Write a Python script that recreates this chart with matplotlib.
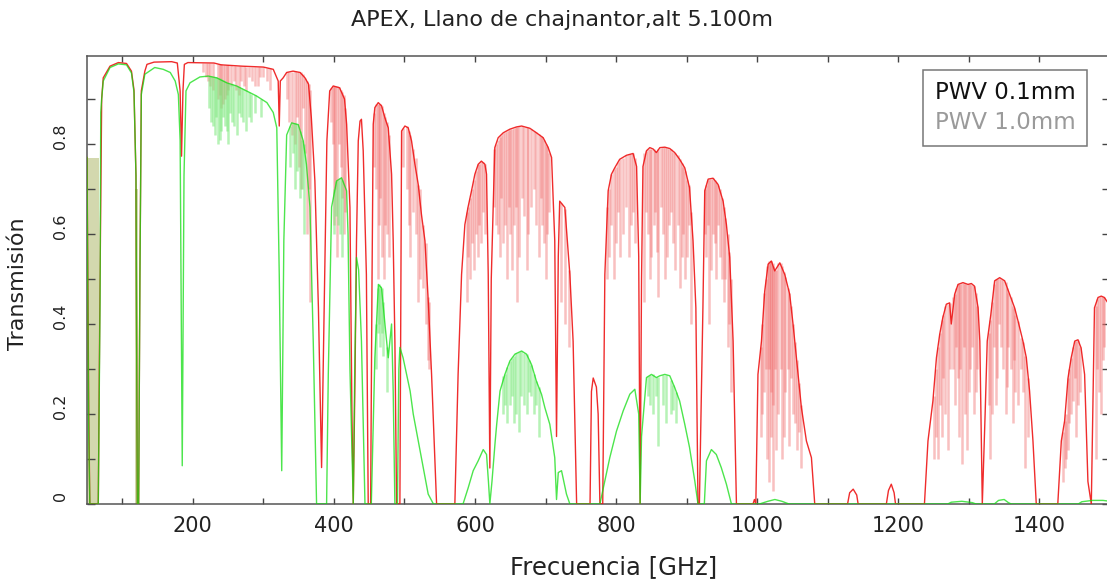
import matplotlib
matplotlib.use("Agg")
import matplotlib.pyplot as plt
from matplotlib.lines import Line2D
from matplotlib.ticker import MultipleLocator, FixedLocator
import matplotlib.transforms as mtransforms

# ---------------- data ----------------
# PWV 0.1 mm (red): (frequency GHz, transmission)
red_curve = [
    (50, 0.77), (51, 0.55), (52.5, 0.2), (54, 0.0), (66, 0.0), (68.5, 0.5), (70.8, 0.9),
    (73, 0.947), (82.6, 0.973), (94.4, 0.981), (106, 0.979), (113, 0.962), (116.6, 0.92),
    (119.4, 0.73), (121.3, 0.0), (123.2, 0.0), (125, 0.51), (127, 0.918), (132, 0.962),
    (135, 0.977), (145, 0.982), (170, 0.983), (178, 0.98), (180, 0.95), (182, 0.918),
    (184, 0.773), (186, 0.918), (188, 0.977), (193, 0.981), (230, 0.98), (240, 0.976),
    (270, 0.973), (300, 0.971), (314, 0.966), (321, 0.94), (322.5, 0.84), (324, 0.94),
    (328, 0.947), (333, 0.959), (342, 0.962), (352, 0.959), (359, 0.947), (364, 0.933),
    (368, 0.858), (373, 0.718), (378, 0.436), (382.5, 0.081), (387, 0.51), (390, 0.807),
    (394, 0.918), (399, 0.929), (408, 0.925), (415, 0.90), (418, 0.844), (422.7, 0.659),
    (425.5, 0.2), (427.4, 0.0), (430, 0.3), (432, 0.585), (434.5, 0.807), (437, 0.851),
    (439, 0.855), (441.5, 0.785), (446, 0.51), (448.6, 0.0), (452, 0.0), (454, 0.5),
    (455.7, 0.844), (458, 0.881), (462.8, 0.892), (467.5, 0.885), (472.3, 0.858),
    (477, 0.836), (481.7, 0.733), (484, 0.585), (486.4, 0.362), (488.8, 0.0), (493.5, 0.0),
    (495.9, 0.829), (500.6, 0.84), (505.3, 0.836), (510, 0.807), (514.8, 0.755),
    (519.5, 0.71), (524, 0.644), (529, 0.585), (533.7, 0.451), (538.4, 0.288), (545.5, 0.0),
    (571.4, 0.0), (576, 0.288), (580.9, 0.51), (585.6, 0.621), (590, 0.659), (595, 0.696),
    (599.8, 0.733), (604.5, 0.755), (609, 0.762), (614, 0.755), (616.3, 0.733),
    (618.7, 0.51), (621, 0.08), (623, 0.5), (628, 0.792), (632.8, 0.814), (640, 0.825),
    (649.4, 0.833), (658.8, 0.838), (666, 0.84), (677.7, 0.835), (687, 0.825),
    (696.6, 0.814), (703.7, 0.792), (708.5, 0.77), (710.8, 0.673), (713, 0.585),
    (715.5, 0.15), (718, 0.55), (720, 0.673), (727.3, 0.659), (734.4, 0.51), (739, 0.362),
    (744, 0.0), (763, 0.0), (765, 0.25), (767.5, 0.28), (772, 0.26), (774.5, 0.2),
    (777, 0.0), (781, 0.0), (784, 0.51), (788.7, 0.696), (793.4, 0.733), (798, 0.747),
    (805, 0.766), (814.7, 0.775), (824, 0.779), (829, 0.75), (832, 0.55), (834, 0.0),
    (836, 0.5), (838, 0.75), (843, 0.785), (847.7, 0.792), (852.4, 0.789), (857, 0.781),
    (862, 0.792), (869, 0.793), (876, 0.79), (883, 0.781), (890, 0.766), (897.3, 0.747),
    (904, 0.703), (909, 0.585), (913, 0.436), (916, 0.0), (918, 0.0), (923, 0.436),
    (925.6, 0.696), (930.4, 0.722), (937.4, 0.724), (944.5, 0.71), (951.6, 0.673),
    (956.3, 0.621), (961, 0.548), (965.8, 0.362), (970.5, 0.0), (994, 0.0), (996, 0.01),
    (998, 0.0), (1001, 0.288), (1006, 0.362), (1010.6, 0.473), (1015.4, 0.533),
    (1020, 0.54), (1024.8, 0.518), (1032, 0.536), (1039, 0.51), (1046, 0.466),
    (1050.8, 0.399), (1055.5, 0.325), (1062.6, 0.214), (1069.7, 0.14), (1076.8, 0.103),
    (1081.5, 0.0), (1128, 0.0), (1131, 0.025), (1136, 0.033), (1141, 0.02), (1143, 0.0),
    (1183, 0.0), (1186, 0.03), (1190, 0.044), (1194, 0.025), (1196, 0.0), (1237, 0.0),
    (1242, 0.14), (1249, 0.229), (1254, 0.325), (1258.6, 0.377), (1263, 0.414),
    (1268, 0.444), (1272.7, 0.447), (1275, 0.40), (1279.8, 0.466), (1284.6, 0.488),
    (1291.6, 0.492), (1298.7, 0.488), (1303.5, 0.49), (1308, 0.484), (1313, 0.436),
    (1315.5, 0.362), (1319, 0.0), (1323, 0.2), (1326, 0.362), (1331, 0.42), (1336.5, 0.496),
    (1343.6, 0.503), (1350.7, 0.496), (1357.8, 0.466), (1364.8, 0.436), (1369.6, 0.407),
    (1376.6, 0.362), (1381.4, 0.325), (1386, 0.251), (1390.8, 0.14), (1395.5, 0.0),
    (1426, 0.0), (1431, 0.14), (1435.7, 0.185), (1440.5, 0.28), (1445, 0.325), (1450, 0.362),
    (1454.6, 0.365), (1459, 0.347), (1464, 0.288), (1468.7, 0.05), (1473.5, 0.0),
    (1478, 0.436), (1483, 0.459), (1487.6, 0.462), (1492, 0.459), (1500, 0.44),
]

# PWV 0.1 mm line forest: (frequency, top, bottom)
red_lines = [
    (214, 0.98, 0.96), (218, 0.98, 0.95), (221, 0.98, 0.94), (225, 0.98, 0.93),
    (229, 0.979, 0.92), (235, 0.978, 0.90), (238, 0.977, 0.91), (240, 0.977, 0.88),
    (243, 0.976, 0.89), (245, 0.976, 0.90), (248, 0.975, 0.91), (250, 0.975, 0.92),
    (254, 0.975, 0.93), (258, 0.974, 0.94), (261, 0.974, 0.92), (265, 0.974, 0.91),
    (268, 0.973, 0.94), (272, 0.973, 0.93), (276, 0.972, 0.92), (280, 0.972, 0.95),
    (284, 0.972, 0.94), (288, 0.972, 0.93), (292, 0.971, 0.93), (295, 0.971, 0.95),
    (300, 0.971, 0.95), (305, 0.970, 0.94), (310, 0.968, 0.92),
    (333, 0.959, 0.90), (336, 0.96, 0.85), (340, 0.961, 0.82), (345, 0.962, 0.80),
    (348, 0.961, 0.86), (350, 0.96, 0.75), (353, 0.96, 0.70), (356, 0.955, 0.88),
    (359, 0.947, 0.78), (362, 0.94, 0.60), (364, 0.933, 0.70), (366, 0.92, 0.45),
    (396, 0.925, 0.85), (398, 0.93, 0.80), (400, 0.929, 0.62), (402, 0.93, 0.70),
    (405, 0.928, 0.55), (407, 0.926, 0.80), (410, 0.92, 0.75), (412, 0.915, 0.68),
    (414, 0.91, 0.60), (416, 0.88, 0.65),
    (457, 0.87, 0.75), (460, 0.89, 0.70), (462, 0.89, 0.50), (464, 0.89, 0.62),
    (466, 0.888, 0.68), (468, 0.885, 0.55), (471, 0.87, 0.50), (473, 0.86, 0.62),
    (475, 0.85, 0.60), (478, 0.82, 0.55),
    (498, 0.835, 0.75), (503, 0.84, 0.70), (506, 0.83, 0.62), (508, 0.82, 0.55),
    (512, 0.79, 0.65), (516, 0.77, 0.60), (519, 0.71, 0.45), (522, 0.70, 0.50),
    (526, 0.62, 0.48), (530, 0.58, 0.40), (533, 0.46, 0.32), (535, 0.45, 0.30),
    (588, 0.65, 0.45), (590, 0.66, 0.55), (593, 0.68, 0.50), (596, 0.70, 0.58),
    (598, 0.72, 0.52), (601, 0.74, 0.60), (604, 0.755, 0.55), (606, 0.755, 0.62),
    (609, 0.762, 0.58), (611, 0.76, 0.65), (614, 0.755, 0.60),
    (627, 0.79, 0.66), (630, 0.80, 0.62), (632, 0.81, 0.60), (635, 0.815, 0.55),
    (637, 0.82, 0.68), (640, 0.825, 0.58), (642, 0.827, 0.62), (645, 0.83, 0.50),
    (648, 0.832, 0.66), (650, 0.833, 0.60), (652, 0.834, 0.52), (655, 0.836, 0.62),
    (658, 0.837, 0.66), (660, 0.838, 0.45), (663, 0.84, 0.55), (666, 0.84, 0.68),
    (670, 0.838, 0.64), (673, 0.837, 0.52), (675, 0.836, 0.60), (679, 0.834, 0.66),
    (683, 0.83, 0.70), (686, 0.826, 0.62), (690, 0.822, 0.55), (693, 0.818, 0.68),
    (695, 0.815, 0.62), (698, 0.81, 0.58), (700, 0.80, 0.50), (702, 0.795, 0.60),
    (705, 0.78, 0.65),
    (722, 0.67, 0.45), (728, 0.655, 0.40), (733, 0.52, 0.35),
    (787, 0.66, 0.50), (790, 0.70, 0.55), (793, 0.733, 0.62), (797, 0.745, 0.50),
    (800, 0.75, 0.58), (803, 0.76, 0.65), (806, 0.766, 0.55), (810, 0.77, 0.60),
    (814, 0.775, 0.66), (818, 0.777, 0.55), (821, 0.778, 0.62), (824, 0.779, 0.65),
    (827, 0.77, 0.58),
    (840, 0.78, 0.45), (842, 0.785, 0.65), (845, 0.79, 0.60), (848, 0.79, 0.50),
    (850, 0.79, 0.55), (853, 0.789, 0.62), (855, 0.785, 0.65), (858, 0.785, 0.56),
    (860, 0.79, 0.46), (863, 0.792, 0.66), (866, 0.793, 0.60), (869, 0.793, 0.50),
    (872, 0.792, 0.55), (875, 0.79, 0.62), (878, 0.788, 0.65), (881, 0.783, 0.58),
    (884, 0.78, 0.52), (887, 0.775, 0.62), (890, 0.766, 0.48), (893, 0.758, 0.55),
    (895, 0.75, 0.60), (898, 0.74, 0.50), (900, 0.72, 0.55), (903, 0.71, 0.62),
    (906, 0.65, 0.40),
    (926, 0.70, 0.60), (928, 0.71, 0.55), (930, 0.72, 0.62), (932, 0.722, 0.40),
    (935, 0.723, 0.52), (938, 0.724, 0.60), (940, 0.72, 0.58), (942, 0.715, 0.50),
    (945, 0.71, 0.62), (947, 0.70, 0.55), (950, 0.68, 0.50), (953, 0.66, 0.45),
    (955, 0.635, 0.50), (958, 0.60, 0.35), (960, 0.56, 0.40), (963, 0.50, 0.25),
    (1005, 0.35, 0.15), (1007, 0.40, 0.20), (1010, 0.47, 0.25), (1012, 0.50, 0.30),
    (1014, 0.53, 0.10), (1016, 0.535, 0.30), (1017, 0.54, 0.05), (1019, 0.54, 0.25),
    (1020, 0.54, 0.15), (1022, 0.535, 0.22), (1023, 0.53, 0.03), (1025, 0.52, 0.30),
    (1027, 0.52, 0.12), (1030, 0.535, 0.20), (1033, 0.535, 0.30), (1035, 0.53, 0.10),
    (1038, 0.515, 0.15), (1040, 0.505, 0.25), (1043, 0.48, 0.30), (1045, 0.47, 0.13),
    (1048, 0.44, 0.28), (1050, 0.40, 0.20), (1053, 0.36, 0.18), (1056, 0.32, 0.12),
    (1059, 0.27, 0.16), (1062, 0.22, 0.08),
    (1250, 0.24, 0.10), (1253, 0.30, 0.15), (1256, 0.35, 0.10), (1259, 0.38, 0.22),
    (1262, 0.41, 0.15), (1264, 0.42, 0.28), (1266, 0.44, 0.20), (1270, 0.445, 0.12),
    (1273, 0.447, 0.30), (1277, 0.46, 0.30), (1280, 0.466, 0.22), (1282, 0.48, 0.35),
    (1284, 0.488, 0.28), (1286, 0.49, 0.15), (1288, 0.49, 0.30), (1290, 0.492, 0.09),
    (1293, 0.492, 0.35), (1295, 0.49, 0.20), (1297, 0.489, 0.12), (1300, 0.488, 0.25),
    (1302, 0.488, 0.30), (1305, 0.486, 0.35), (1307, 0.485, 0.20), (1310, 0.47, 0.25),
    (1312, 0.44, 0.30), (1328, 0.38, 0.22), (1330, 0.41, 0.10), (1333, 0.45, 0.20),
    (1336, 0.49, 0.35), (1338, 0.50, 0.22), (1340, 0.50, 0.28), (1343, 0.503, 0.40),
    (1346, 0.50, 0.35), (1349, 0.497, 0.30), (1352, 0.494, 0.20), (1354, 0.48, 0.26),
    (1356, 0.47, 0.35), (1359, 0.46, 0.30), (1362, 0.44, 0.18), (1364, 0.436, 0.32),
    (1366, 0.42, 0.25), (1369, 0.407, 0.22), (1374, 0.37, 0.30), (1377, 0.36, 0.25),
    (1380, 0.33, 0.08), (1384, 0.28, 0.15),
    (1433, 0.16, 0.05), (1436, 0.185, 0.08), (1438, 0.20, 0.10), (1440, 0.28, 0.12),
    (1442, 0.30, 0.18), (1445, 0.325, 0.20), (1448, 0.35, 0.23), (1450, 0.362, 0.28),
    (1452, 0.363, 0.15), (1455, 0.365, 0.22), (1457, 0.35, 0.25), (1480, 0.44, 0.10),
    (1482, 0.455, 0.30), (1485, 0.46, 0.25), (1487, 0.462, 0.20), (1490, 0.46, 0.32),
    (1492, 0.459, 0.35),
]

# PWV 1.0 mm (green): (frequency GHz, transmission)
green_curve = [
    (50, 0.77), (51, 0.5), (52.5, 0.15), (54, 0.0), (66, 0.0), (68.5, 0.45), (69.5, 0.87),
    (70.8, 0.9), (73, 0.94), (82.6, 0.97), (94.4, 0.978), (106, 0.976), (113, 0.958),
    (116.6, 0.915), (119.4, 0.73), (121.3, 0.0), (123.2, 0.0), (125, 0.5), (127, 0.91),
    (132, 0.955), (146, 0.97), (158, 0.966), (168, 0.959), (175, 0.94), (179.5, 0.91),
    (182, 0.807), (185, 0.085), (187.5, 0.73), (190.3, 0.918), (196, 0.936), (210, 0.949),
    (222, 0.951), (234, 0.947), (248, 0.936), (262, 0.929), (276, 0.918), (290, 0.907),
    (305, 0.892), (314, 0.87), (319, 0.836), (322.5, 0.51), (326, 0.074), (329, 0.585),
    (333, 0.82), (340, 0.847), (349.5, 0.843), (356.5, 0.807), (361, 0.755), (366, 0.66),
    (370.7, 0.36), (375.4, 0.0), (389.6, 0.0), (392, 0.288), (396.7, 0.66), (403.8, 0.718),
    (410.8, 0.725), (418, 0.696), (420, 0.60), (422.7, 0.3), (427.4, 0.0), (429.5, 0.3),
    (432, 0.548), (435, 0.52), (439, 0.362), (444, 0.0), (453, 0.0), (458, 0.325),
    (463, 0.488), (467.5, 0.48), (472.3, 0.40), (477, 0.325), (481.7, 0.40), (484, 0.25),
    (486.4, 0.0), (490, 0.0), (492, 0.30), (493.5, 0.348), (498, 0.325), (503, 0.288),
    (508, 0.251), (512.4, 0.20), (519.5, 0.14), (526.6, 0.081), (533.6, 0.022), (541, 0.0),
    (583, 0.0), (590.3, 0.036), (597.4, 0.074), (604.5, 0.096), (611.6, 0.121),
    (616.3, 0.11), (619, 0.05), (621, 0.0), (624, 0.05), (628.6, 0.14), (630.7, 0.177),
    (635.4, 0.251), (642.3, 0.288), (649.4, 0.318), (656.5, 0.333), (666, 0.34),
    (673, 0.333), (680, 0.31), (687, 0.273), (694.2, 0.244), (699, 0.214), (706, 0.177),
    (713, 0.103), (715.5, 0.01), (718, 0.07), (722.6, 0.074), (729.6, 0.022), (734.4, 0.0),
    (777, 0.0), (784, 0.051), (791, 0.103), (800.5, 0.162), (810, 0.207), (819.4, 0.244),
    (826.5, 0.255), (832, 0.2), (834, 0.0), (836, 0.15), (843, 0.281), (850, 0.288),
    (857, 0.281), (862, 0.285), (869, 0.288), (876, 0.285), (883, 0.259), (890, 0.229),
    (897.3, 0.177), (904, 0.126), (911.5, 0.051), (916, 0.0), (925, 0.0), (928, 0.096),
    (935, 0.121), (942, 0.11), (949, 0.081), (956.3, 0.044), (963.4, 0.0), (1003, 0.0),
    (1015, 0.006), (1025, 0.01), (1035, 0.006), (1045, 0.0), (1270, 0.0), (1275, 0.004),
    (1290, 0.006), (1305, 0.003), (1310, 0.0), (1336, 0.0), (1342, 0.008), (1350, 0.01),
    (1356, 0.003), (1360, 0.0), (1455, 0.0), (1460, 0.005), (1475, 0.008), (1490, 0.008),
    (1500, 0.006),
]

# PWV 1.0 mm line forest: (frequency, top, bottom)
green_lines = [
    (223, 0.951, 0.88), (226, 0.951, 0.85), (228, 0.95, 0.84), (231, 0.949, 0.82),
    (233, 0.948, 0.86), (236, 0.947, 0.80), (238, 0.946, 0.81), (240, 0.945, 0.83),
    (243, 0.942, 0.86), (245, 0.94, 0.84), (248, 0.936, 0.83), (250, 0.936, 0.80),
    (253, 0.934, 0.87), (256, 0.933, 0.85), (259, 0.931, 0.84), (262, 0.929, 0.82),
    (265, 0.927, 0.87), (268, 0.925, 0.86), (271, 0.922, 0.85), (275, 0.919, 0.83),
    (279, 0.916, 0.86), (283, 0.912, 0.85), (288, 0.909, 0.87), (297, 0.90, 0.86),
    (338, 0.84, 0.75), (342, 0.846, 0.78), (345, 0.846, 0.70), (348, 0.844, 0.74),
    (352, 0.83, 0.68), (355, 0.81, 0.70), (358, 0.80, 0.60),
    (400, 0.70, 0.60), (403, 0.718, 0.64), (406, 0.72, 0.62), (409, 0.725, 0.60),
    (412, 0.72, 0.55),
    (460, 0.40, 0.30), (462, 0.48, 0.38), (464, 0.488, 0.40), (466, 0.485, 0.35),
    (468, 0.48, 0.38), (470, 0.45, 0.33), (475, 0.35, 0.25),
    (640, 0.285, 0.20), (643, 0.29, 0.22), (646, 0.305, 0.18), (649, 0.318, 0.22),
    (652, 0.325, 0.24), (655, 0.33, 0.18), (658, 0.335, 0.20), (662, 0.338, 0.16),
    (665, 0.34, 0.24), (670, 0.336, 0.22), (673, 0.333, 0.20), (676, 0.32, 0.25),
    (680, 0.31, 0.24), (684, 0.29, 0.20), (687, 0.273, 0.22), (690, 0.26, 0.15),
    (845, 0.285, 0.24), (848, 0.287, 0.22), (852, 0.288, 0.20), (856, 0.283, 0.24),
    (860, 0.283, 0.13), (866, 0.287, 0.22), (871, 0.287, 0.18), (878, 0.275, 0.20),
    (881, 0.265, 0.21), (885, 0.25, 0.18),
]

# saturated oxygen bands (shaded): (frequency, top)
o2_band_60 = [(50.5, 0.77), (67.5, 0.77)]
o2_band_118 = [(117.5, 0.70), (122.5, 0.70)]

title_text = "APEX, Llano de chajnantor,alt 5.100m"
xlabel_text = "Frecuencia [GHz]"
ylabel_text = "Transmisión"
legend_labels = ["PWV 0.1mm", "PWV 1.0mm"]
x_major_ticks = [200, 400, 600, 800, 1000, 1200, 1400]
y_major_ticks = [0, 0.2, 0.4, 0.6, 0.8]
y_tick_labels = ["0", "0.2", "0.4", "0.6", "0.8"]

# ---------------- figure ----------------
W, H = 1107, 582
fig = plt.figure(figsize=(W / 100, H / 100), dpi=100)
fig.patch.set_facecolor("white")
ax = fig.add_axes([87 / W, (H - 504) / H, (1110 - 87) / W, 448 / H])
ax.set_xlim(50, 1500)
ax.set_ylim(0, 0.9956)

rf, rt = zip(*red_curve)
gf, gt = zip(*green_curve)
rlf, rlt, rlb = zip(*red_lines)
glf, glt, glb = zip(*green_lines)

for band in (o2_band_60, o2_band_118):
    bf, bt = zip(*band)
    ax.fill_between(bf, 0, bt, color="#c9cf9a", alpha=0.8, lw=0, zorder=1)

ax.vlines(rlf, rlb, rlt, colors="#f06a6a", alpha=0.42, lw=1.8, zorder=2)
ax.plot(rf, rt, color="#ee1515", lw=1.0, alpha=0.9, zorder=3)

ax.vlines(glf, glb, glt, colors="#7ae87a", alpha=0.55, lw=1.8, zorder=4)
ax.plot(gf, gt, color="#11dd11", lw=1.0, alpha=0.75, zorder=5)

# ticks
ax.xaxis.set_major_locator(FixedLocator(x_major_ticks))
ax.xaxis.set_minor_locator(MultipleLocator(100))
ax.yaxis.set_major_locator(FixedLocator(y_major_ticks))
ax.set_yticklabels(y_tick_labels)
ax.yaxis.set_minor_locator(MultipleLocator(0.1))
ax.tick_params(axis="x", which="both", direction="in", top=True, bottom=True,
               length=4, width=1, color="#444444", labelsize=15, pad=9,
               labelcolor="#222222")
ax.tick_params(axis="y", which="both", direction="in", left=True, right=True,
               length=6, width=1, color="#444444", labelsize=11.5, pad=14,
               labelcolor="#222222")
for lab in ax.get_yticklabels():
    lab.set_rotation(90)
    lab.set_va("center")
    lab.set_transform(lab.get_transform() +
                      mtransforms.ScaledTranslation(0, 8 / 100, fig.dpi_scale_trans))

for sp in ax.spines.values():
    sp.set_color("#555555")
    sp.set_linewidth(1.1)

# texts
fig.text(562 / W, 1 - 20 / H, title_text, ha="center", va="center",
         fontsize=16, color="#222222")
fig.text(614 / W, 1 - 567 / H, xlabel_text, ha="center", va="center",
         fontsize=17.5, color="#222222")
fig.text(18 / W, 1 - 284 / H, ylabel_text, ha="center", va="center",
         rotation=90, fontsize=16, color="#222222")

# legend
handles = [Line2D([], [], color="none"), Line2D([], [], color="none")]
leg = ax.legend(handles, legend_labels, loc="upper right",
                bbox_to_anchor=(1087 / W, 1 - 70 / H), bbox_transform=fig.transFigure,
                borderaxespad=0, handlelength=0, handletextpad=0, fancybox=False,
                fontsize=16.5, borderpad=0.5, labelspacing=0.3, framealpha=1)
leg.get_frame().set_edgecolor("#777777")
leg.get_frame().set_linewidth(1.1)
leg.get_texts()[0].set_color("#111111")
leg.get_texts()[1].set_color("#9a9a9a")

fig.savefig("out.png", dpi=100, facecolor="white")
